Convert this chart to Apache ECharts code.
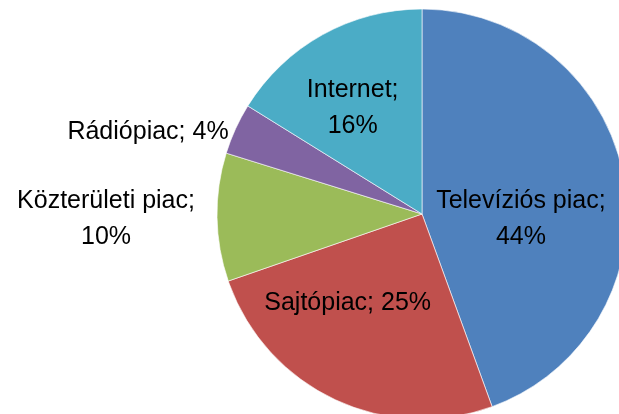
<!DOCTYPE html>
<html>
<head>
<meta charset="utf-8">
<script src="https://cdn.jsdelivr.net/npm/echarts@6/dist/echarts.min.js"></script>
<style>
html,body{margin:0;padding:0;background:#fff;}
#main{width:619px;height:414px;}
</style>
</head>
<body>
<div id="main"></div>
<script>
// piaci részesedés (%)
var names = ['Televíziós piac', 'Sajtópiac', 'Közterületi piac', 'Rádiópiac', 'Internet'];
var values = [44, 25, 10, 4, 16];
var colors = ['#4F81BD', '#C0504D', '#9BBB59', '#8064A2', '#4BACC6'];
var outside = [false, false, true, true, false];//kívül kerül a címke
var wrap = [true, false, true, false, true];//két sorba törve
// címkék finomhangolása (eltolás px-ben, igazítás)
var labelShift = [[-5, 23], [-29, -6], [-94, 2], [9, 8], [-18, -14]];
var labelAlign = ['center', 'center', 'center', 'right', 'center'];

var myChart = echarts.init(document.getElementById('main'));

var data = [];
for (var i = 0; i < names.length; i++) {
    data.push({
        name: names[i],
        value: values[i],
        itemStyle: {color: colors[i]},
        label: {
            position: outside[i] ? 'outside' : 'inside',
            formatter: names[i] + ';' + (wrap[i] ? '\n' : ' ') + values[i] + '%'
        }
    });
}

var option = {
    animation: false,
    series: [{
        type: 'pie',
        center: [422, 214],
        radius: 205,
        startAngle: 90,
        clockwise: true,
        data: data,
        itemStyle: {borderColor: '#fff', borderWidth: 0.6},
        label: {
            color: '#000',
            fontFamily: 'Liberation Sans',
            fontSize: 25,
            lineHeight: 36,
            align: 'center'
        },
        labelLine: {show: false, length: 12, length2: 0},
        labelLayout: function (p) {
            var s = labelShift[p.dataIndex];
            return {dx: s[0], dy: s[1], align: labelAlign[p.dataIndex]};
        },
        emphasis: {disabled: true}
    }]
};
myChart.setOption(option);
</script>
</body>
</html>
